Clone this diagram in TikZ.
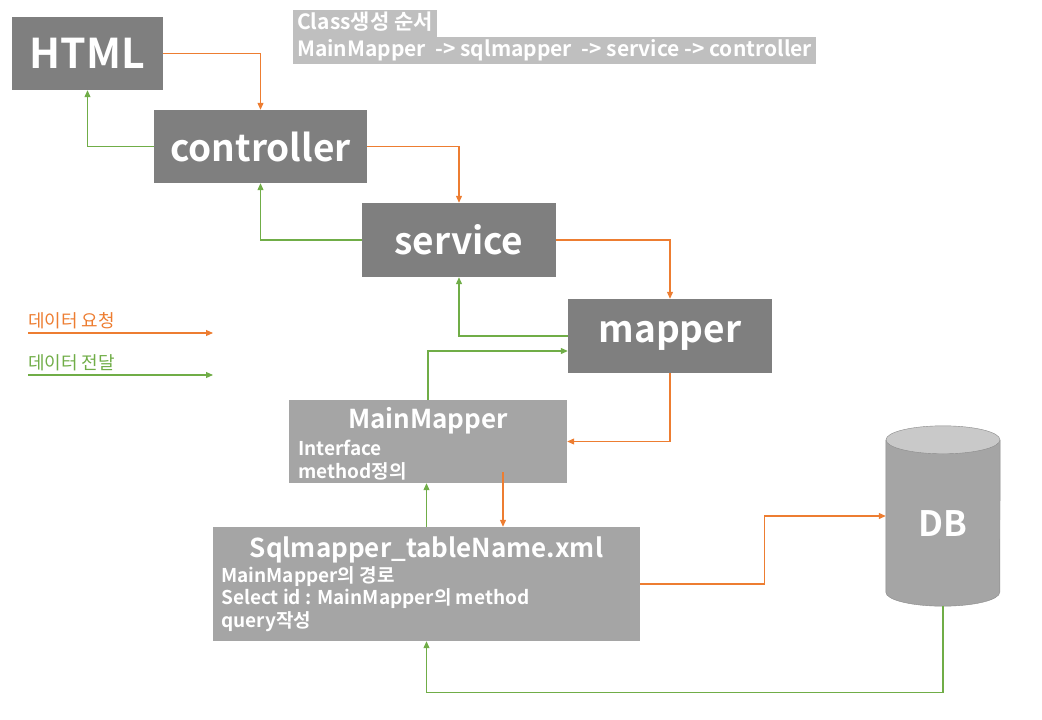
\documentclass[tikz,border=0pt]{standalone}
\usepackage{fontspec}
\setmainfont{Noto Sans CJK KR}[BoldFont={Noto Sans CJK KR Bold}]
\usetikzlibrary{arrows.meta}
\definecolor{boxdark}{HTML}{7F7F7F}
\definecolor{boxlight}{HTML}{A5A5A5}
\definecolor{hdrgray}{HTML}{BFBFBF}
\definecolor{dbtop}{HTML}{C9C9C9}
\definecolor{dbedge}{HTML}{8A8A8A}
\definecolor{reqorange}{HTML}{ED7D31}
\definecolor{resgreen}{HTML}{70AD47}
\tikzset{
  darkbox/.style={fill=boxdark,text=white,inner sep=0pt,
    font=\bfseries\fontsize{37}{42}\selectfont},
  lightbox/.style={fill=boxlight,inner sep=0pt},
  boxtitle/.style={text=white,inner sep=0pt,font=\bfseries\fontsize{26}{30}\selectfont},
  boxlines/.style={text=white,inner sep=0pt,align=left,font=\bfseries\fontsize{19}{22.5}\selectfont},
  hdr/.style={fill=hdrgray,text=white,inner xsep=4pt,inner ysep=3pt,
    text height=16pt,text depth=4.5pt,font=\bfseries\fontsize{21}{24}\selectfont},
  legtext/.style={inner sep=0pt,font=\fontsize{18}{20}\selectfont},
  req/.style={draw=reqorange,line width=1.1pt,-{Triangle[length=7pt,width=6pt]}},
  res/.style={draw=resgreen,line width=1.1pt,-{Triangle[length=7pt,width=6pt]}}
}
\begin{document}
\begin{tikzpicture}[x=1pt,y=-1pt]
\useasboundingbox (0,0) rectangle (1042,720);
\node[darkbox,minimum width=151pt,minimum height=73pt,
      font=\bfseries\fontsize{41}{46}\selectfont] (html) at (87.5,53.5) {HTML};
\node[darkbox,minimum width=213pt,minimum height=73pt] (ctrl) at (260.5,146.5) {controller};
\node[darkbox,minimum width=194pt,minimum height=74pt] (svc) at (459,240) {service};
\node[darkbox,minimum width=204pt,minimum height=74pt] (map) at (670,336) {mapper};
\node[lightbox,minimum width=278pt,minimum height=83pt] (mm) at (428,441.5) {};
\node[boxtitle,anchor=base] (mmt) at (428,428) {MainMapper};
\node[boxlines,anchor=base west] (mml) at (298,478) {Interface\\method정의};
\node[lightbox,minimum width=427pt,minimum height=114pt] (sql) at (426.5,584) {};
\node[boxtitle,anchor=base] (sqlt) at (426.5,557) {Sqlmapper\_tableName.xml};
\node[boxlines,anchor=base west] (sqll) at (221,627)
  {MainMapper의 경로\\Select id : MainMapper의 method\\query작성};
\node[minimum width=114pt,minimum height=180pt,inner sep=0pt] (db) at (943,516) {};
\fill[boxlight] ([yshift=-14pt]db.north west) -- ([yshift=14pt]db.south west)
  arc[start angle=180,end angle=360,x radius=57pt,y radius=14pt]
  -- ([yshift=-14pt]db.north east) -- cycle;
\draw[dbedge] ([yshift=-14pt]db.north west) -- ([yshift=14pt]db.south west)
  arc[start angle=180,end angle=360,x radius=57pt,y radius=14pt]
  -- ([yshift=-14pt]db.north east);
\filldraw[fill=dbtop,draw=dbedge] ([yshift=-14pt]db.north) ellipse[x radius=57pt,y radius=14pt];
\node[text=white,inner sep=0pt,font=\bfseries\fontsize{35}{40}\selectfont]
  (dbt) at ([yshift=-8pt]db.center) {DB};
\node[hdr,anchor=north west] (h1) at (293,10) {Class생성 순서};
\node[hdr,anchor=north west] (h2) at (h1.south west) {MainMapper \ -> sqlmapper \ -> service -> controller};
\node[legtext,text=reqorange,anchor=base west] (lreq) at (28,327) {데이터 요청};
\node[legtext,text=resgreen,anchor=base west] (lres) at (28,369) {데이터 전달};
\coordinate (lreqa) at (28,333);
\coordinate (lreqb) at (213,333);
\coordinate (lresa) at (28,375);
\coordinate (lresb) at (213,375);
\draw[req] (lreqa) -- (lreqb);
\draw[res] (lresa) -- (lresb);
\draw[req] (html.east) -| (ctrl.north);
\draw[req] (ctrl.east) -| (svc.north);
\draw[req] (svc.east) -| (map.north);
\draw[req] (map.south) |- (mm.east);
\draw[req] ([xshift=75pt,yshift=11pt]mm.south) -- ([xshift=76.5pt]sql.north);
\draw[req] (sql.east) -- ++(124,0) |- (db.west);
\draw[res] (ctrl.west) -| (html.south);
\draw[res] (svc.west) -| (ctrl.south);
\draw[res] (map.west) -| (svc.south);
\draw[res] (mm.north) |- ([yshift=-15pt]map.west);
\draw[res] (sql.north) -- (sql.north |- mm.south);
\draw[res] (db.south) -- ++(0,86) -| (sql.south);
\end{tikzpicture}
\end{document}
